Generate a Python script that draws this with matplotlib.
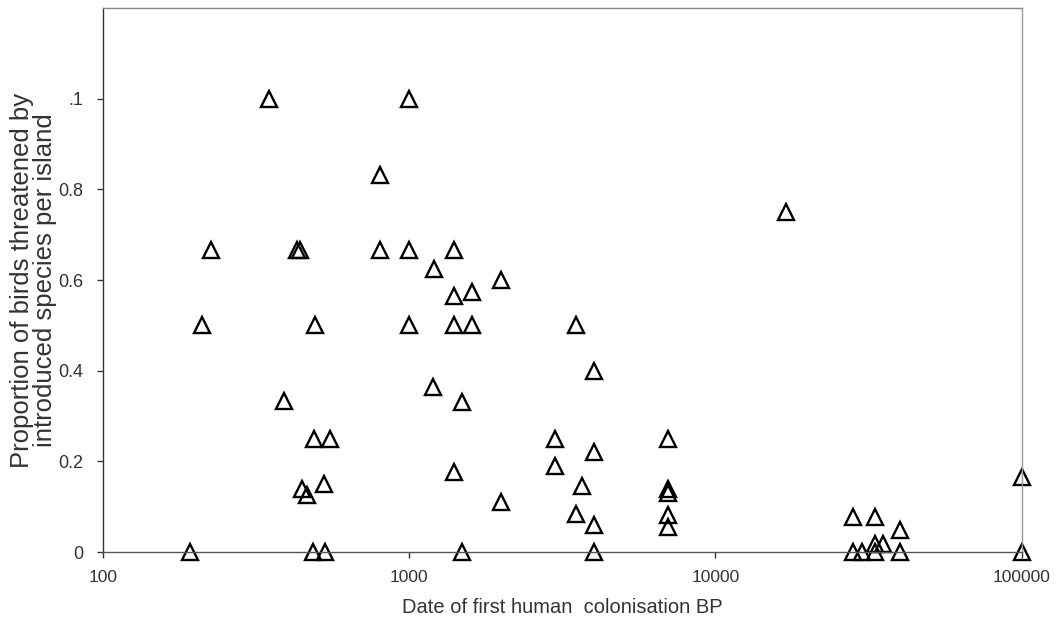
import matplotlib.pyplot as plt
from matplotlib.ticker import FixedLocator, NullLocator

plt.rcParams['font.family'] = ['Liberation Sans', 'DejaVu Sans']

# date of first human colonisation (years BP) and proportion of threatened birds
colonisation = [192, 210, 225, 348, 390, 430, 440, 446, 462, 490, 551, 492, 527, 486, 532,
                802, 802, 1000, 1000, 1000, 1205, 1400, 1400, 1400, 1600, 1600, 2000,
                1200, 1490, 1400, 2000, 1490,
                3500, 4000, 3000, 3000, 4000, 3680, 3500, 4000, 4000,
                7000, 7000, 7000, 7000, 7000,
                17000, 28200, 33100, 40000, 28200, 30200, 33100, 35200, 33100, 40000,
                100000, 100000]
proportion = [0.0, 0.5, 0.667, 1.0, 0.333, 0.667, 0.667, 0.14, 0.125, 0.25, 0.25, 0.5, 0.15, 0.0, 0.0,
              0.833, 0.667, 1.0, 0.667, 0.5, 0.625, 0.667, 0.565, 0.5, 0.573, 0.5, 0.6,
              0.364, 0.331, 0.176, 0.11, 0.0,
              0.5, 0.4, 0.25, 0.19, 0.22, 0.145, 0.084, 0.059, 0.0,
              0.25, 0.14, 0.13, 0.081, 0.055,
              0.75, 0.077, 0.077, 0.048, 0.0, 0.0, 0.018, 0.018, 0.0, 0.0,
              0.165, 0.0]

x_ticks = [100, 1000, 10000, 100000]
y_ticks = [0, 0.2, 0.4, 0.6, 0.8, 1.0]
y_labels = ['0', '0.2', '0.4', '0.6', '0.8', '.1']

fig = plt.figure(figsize=(10.62, 6.26), dpi=100)
ax = fig.add_axes([0.097, 0.118, 0.865, 0.869])

ax.plot(colonisation, proportion, linestyle='none', marker='^', markersize=11,
        markerfacecolor='none', markeredgecolor='black', markeredgewidth=1.7, clip_on=False)

ax.set_xscale('log')
ax.set_xlim(100, 100000)
ax.set_ylim(0, 1.2)
ax.xaxis.set_major_locator(FixedLocator(x_ticks))
ax.xaxis.set_minor_locator(NullLocator())
ax.set_xticklabels([str(t) for t in x_ticks])
ax.set_yticks(y_ticks)
ax.set_yticklabels(y_labels)
ax.tick_params(axis='both', colors='#333333', length=4, width=1)
ax.tick_params(axis='y', labelsize=13, pad=10)
ax.tick_params(axis='x', labelsize=12.5, pad=9)

ax.spines['left'].set_color('#333333')
ax.spines['bottom'].set_color('#555555')
ax.spines['top'].set_color('#888888')
ax.spines['right'].set_color('#999999')
for s in ax.spines.values():
    s.set_linewidth(1)

ax.set_xlabel('Date of first human  colonisation BP', fontsize=14.5, color='#333333', labelpad=9)
ax.set_ylabel('Proportion of birds threatened by\nintroduced species per island',
              fontsize=18.5, color='#333333', labelpad=1, linespacing=0.95)

fig.savefig('out.png', dpi=100)
